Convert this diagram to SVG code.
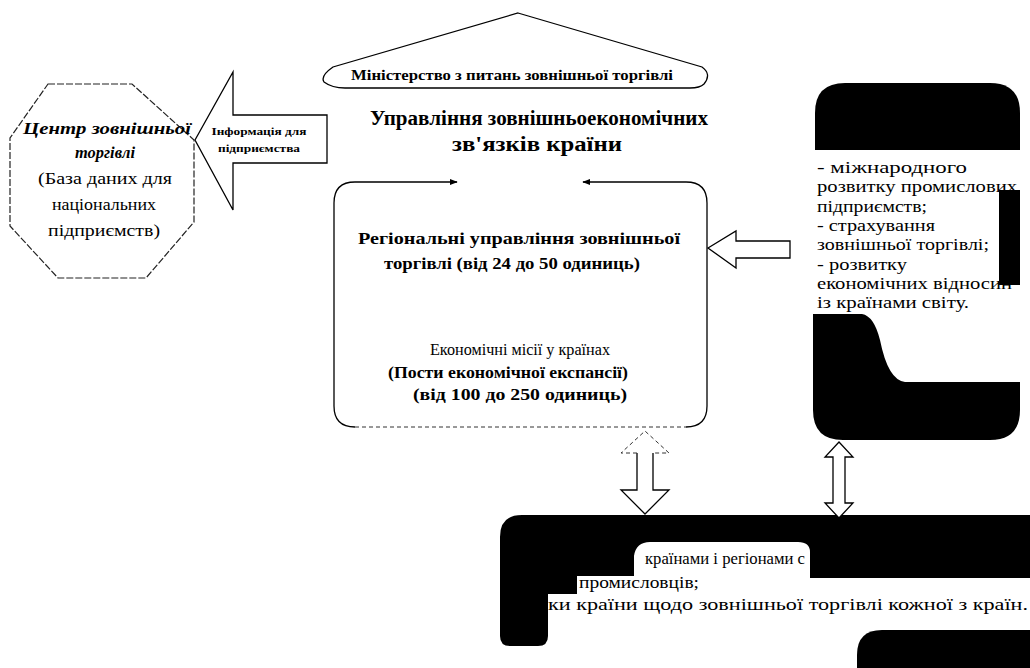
<svg xmlns="http://www.w3.org/2000/svg" width="1030" height="668" viewBox="0 0 1030 668">
<style>
.bg{fill:#fff}
.ln{fill:none;stroke:#000;stroke-width:1.3}
.sh{fill:#fff;stroke:#000;stroke-width:1.3;stroke-linejoin:miter}
.oct{fill:#fff;stroke:#222;stroke-width:1.2;stroke-dasharray:7 2}
.dash{fill:none;stroke:#333;stroke-width:1;stroke-dasharray:4 3}
.blk{fill:#000}
text{font-family:"Liberation Serif","Times New Roman",serif;fill:#000}
.b{font-weight:bold}
.bi{font-weight:bold;font-style:italic}
.c{text-anchor:middle}
</style>
<defs>
<marker id="ah" viewBox="0 0 10 10" refX="9" refY="5" markerWidth="7" markerHeight="6" orient="auto-start-reverse">
<path d="M0,1 L10,5 L0,9 Z" fill="#000"/>
</marker>
</defs>
<rect class="bg" x="0" y="0" width="1030" height="668"/>

<g id="ministry">
<path class="sh" d="M518,13 L702,67 Q712,74 704,84 Q700,88 690,88 L345,88 Q332,88 324,82 Q320,76 333,67 Z"/>
<text class="b c" x="512" y="80" font-size="14" textLength="322" lengthAdjust="spacingAndGlyphs">Міністерство з питань зовнішньої торгівлі</text>
</g>

<g id="title">
<text class="b c" x="539" y="125" font-size="20" textLength="338" lengthAdjust="spacingAndGlyphs">Управління зовнішньоекономічних</text>
<text class="b c" x="537" y="151" font-size="20" textLength="170" lengthAdjust="spacingAndGlyphs">зв'язків країни</text>
</g>

<g id="trade-center">
<polygon class="oct" points="48,84 132,84 194,140 194,222 146,278 58,278 10,226 10,138"/>
<text class="bi c" x="107" y="134" font-size="16" textLength="168" lengthAdjust="spacingAndGlyphs">Центр зовнішньої</text>
<text class="bi c" x="105" y="158" font-size="16" textLength="60" lengthAdjust="spacingAndGlyphs">торгівлі</text>
<text class="c" x="105" y="184" font-size="16" textLength="134" lengthAdjust="spacingAndGlyphs">(База даних для</text>
<text class="c" x="104" y="210" font-size="16" textLength="104" lengthAdjust="spacingAndGlyphs">національних</text>
<text class="c" x="104" y="236" font-size="16" textLength="112" lengthAdjust="spacingAndGlyphs">підприємств)</text>
</g>

<g id="info-arrow">
<polygon class="sh" points="195,140 233,72 233,115 327,115 327,163 233,163 233,210"/>
<text class="b c" x="259" y="135" font-size="11" textLength="95" lengthAdjust="spacingAndGlyphs">Інформація для</text>
<text class="b c" x="259" y="152" font-size="11" textLength="82" lengthAdjust="spacingAndGlyphs">підприємства</text>
</g>

<g id="regional">
<path class="ln" d="M457,182 H355 Q334,182 334,203 V406 Q334,427 355,427" marker-start="url(#ah)"/>
<path class="ln" d="M583,182 H686 Q707,182 707,203 V406 Q707,427 686,427" marker-start="url(#ah)"/>
<path class="dash" d="M355,427 H686"/>
<text class="b c" x="519" y="244" font-size="16" textLength="322" lengthAdjust="spacingAndGlyphs">Регіональні управління зовнішньої</text>
<text class="b c" x="512" y="269" font-size="16" textLength="256" lengthAdjust="spacingAndGlyphs">торгівлі (від 24 до 50 одиниць)</text>
<text class="c" x="520" y="355" font-size="16" textLength="180" lengthAdjust="spacingAndGlyphs">Економічні місії у країнах</text>
<text class="b c" x="508" y="378" font-size="16" textLength="240" lengthAdjust="spacingAndGlyphs">(Пости економічної експансії)</text>
<text class="b c" x="520" y="400" font-size="16" textLength="214" lengthAdjust="spacingAndGlyphs">(від 100 до 250 одиниць)</text>
</g>

<g id="programs">
<path class="blk" d="M815,150 V113 Q815,83 845,83 H990 Q1020,83 1020,113 V150 Z"/>
<rect class="blk" x="999" y="190" width="21" height="95"/>
<path class="blk" d="M813,314 H862 Q874,316 880,340 Q888,380 905,382 H1020 V410 Q1020,440 990,440 H843 Q813,440 813,410 Z"/>
<text x="817" y="173" font-size="16" textLength="150" lengthAdjust="spacingAndGlyphs">- міжнародного</text>
<text x="817" y="192" font-size="16" textLength="200" lengthAdjust="spacingAndGlyphs">розвитку промислових</text>
<text x="817" y="212" font-size="16" textLength="110" lengthAdjust="spacingAndGlyphs">підприємств;</text>
<text x="817" y="231" font-size="16" textLength="118" lengthAdjust="spacingAndGlyphs">- страхування</text>
<text x="817" y="250" font-size="16" textLength="172" lengthAdjust="spacingAndGlyphs">зовнішньої торгівлі;</text>
<text x="817" y="270" font-size="16" textLength="90" lengthAdjust="spacingAndGlyphs">- розвитку</text>
<text x="817" y="289" font-size="16" textLength="195" lengthAdjust="spacingAndGlyphs">економічних відносин</text>
<text x="817" y="308" font-size="16" textLength="152" lengthAdjust="spacingAndGlyphs">із країнами світу.</text>
</g>

<g id="organizations">
<path class="blk" d="M522,515 H1030 V578 H810 V552 Q810,542 798,542 H650 Q636,542 634,556 V576 H577 V594 H548 V636 Q548,646 538,646 H510 Q500,646 500,636 V537 Q500,515 522,515 Z"/>
<path class="blk" d="M882,630 H1030 V668 H857 V655 Q857,630 882,630 Z"/>
<text x="645" y="564" font-size="16" textLength="160" lengthAdjust="spacingAndGlyphs">країнами і регіонами с</text>
<text x="579" y="588" font-size="16" textLength="120" lengthAdjust="spacingAndGlyphs">промисловців;</text>
<text x="548" y="610" font-size="16" textLength="480" lengthAdjust="spacingAndGlyphs">ки країни щодо зовнішньої торгівлі  кожної з країн.</text>
</g>

<g id="connectors">
<polygon class="sh" points="708,248 736,231 736,241 790,241 790,258 736,258 736,268"/>
<polygon fill="#fff" points="645,431 669,453 653,453 653,490 669,490 645,514 621,490 637,490 637,453 621,453"/>
<path class="ln" d="M637,453 V490 H621 L645,514 L669,490 H653 V453"/>
<path class="dash" d="M637,453 H621 L645,431 L669,453 H653"/>
<polygon class="sh" points="839,442 853,457 845,457 845,503 853,503 839,518 825,503 833,503 833,457 825,457"/>
</g>
</svg>
